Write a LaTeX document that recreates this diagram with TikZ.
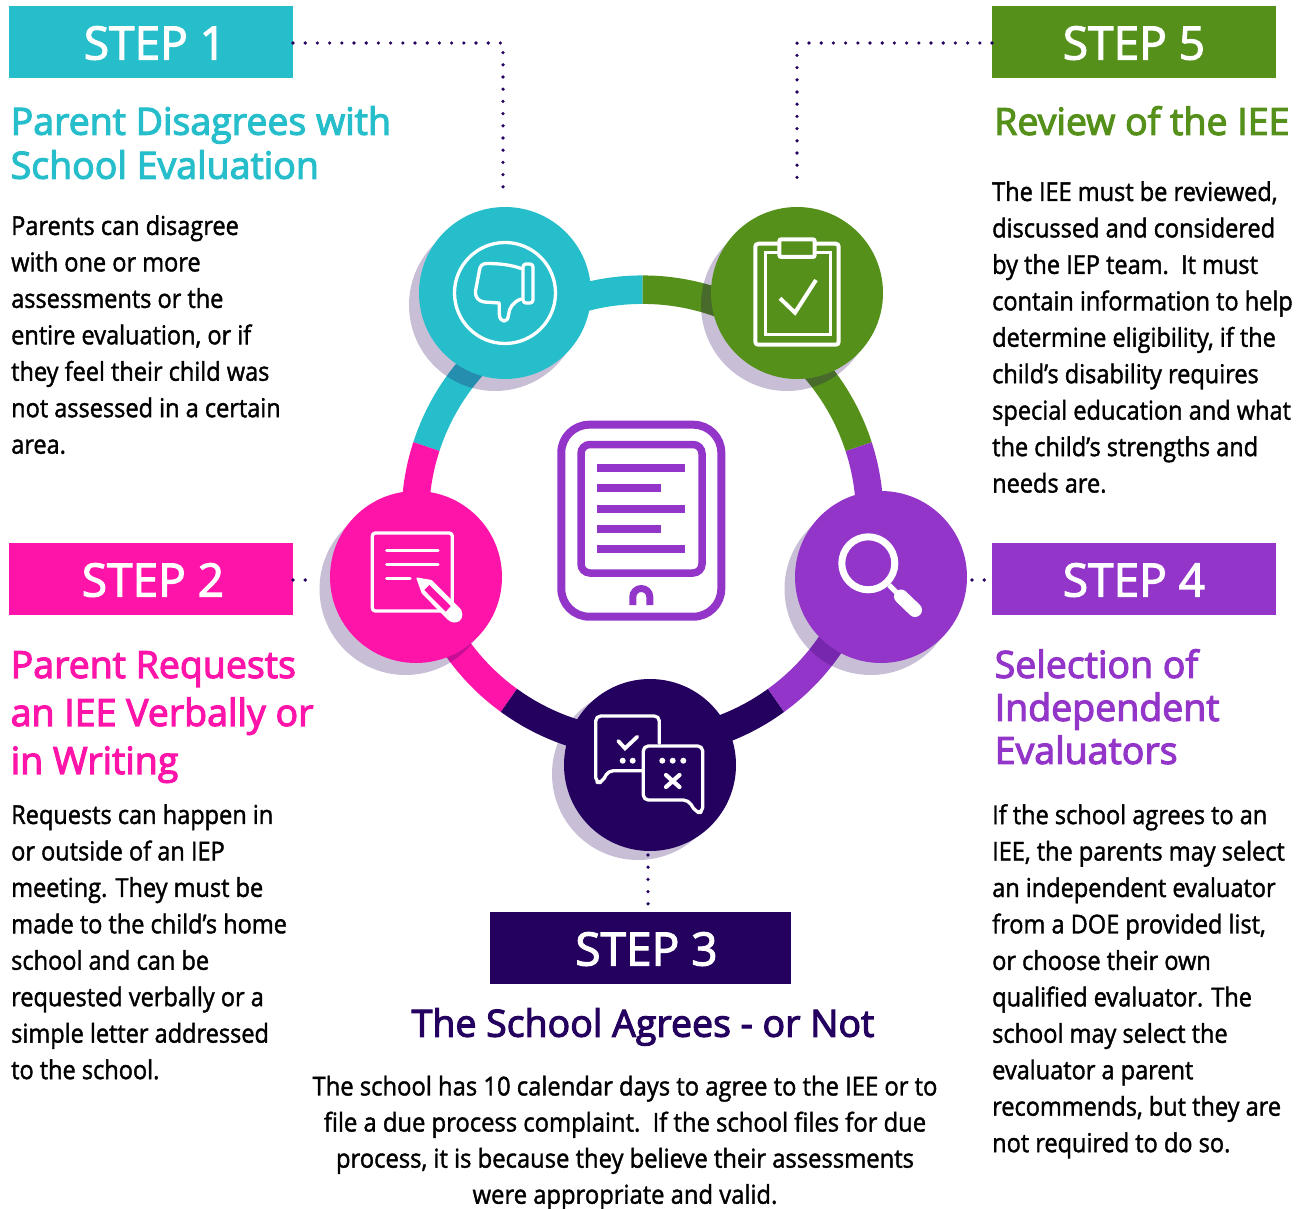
\documentclass[tikz,border=0pt]{standalone}
\usepackage{fontspec}
\setmainfont{Lato}
\newfontfamily\stepfont[FakeBold=2.5]{Open Sans}
\newfontfamily\headfont[FakeBold=3]{Open Sans}
\newfontfamily\bodyfont[FakeStretch=0.905,FakeBold=1.5]{Open Sans}
\newfontfamily\bodywide[FakeStretch=0.915,FakeBold=1.5]{Open Sans}
\definecolor{cteal}{HTML}{26BECA}
\definecolor{cgreen}{HTML}{55901B}
\definecolor{cpurple}{HTML}{9235C8}
\definecolor{cmag}{HTML}{FF14A9}
\definecolor{cnavy}{HTML}{24005F}
\tikzset{
  stepbox/.style={draw=none,minimum width=284pt,minimum height=72pt,inner sep=0pt,outer sep=0pt,text=white,text height=35pt,text depth=0pt,font=\stepfont\fontsize{46}{50}\selectfont},
  hub/.style={circle,minimum size=172pt,inner sep=0pt,outer sep=0pt},
  shadowdisc/.style={circle,minimum size=172pt,inner sep=0pt,fill=cnavy,fill opacity=0.25},
  dotline/.style={cnavy,line width=3.6pt,line cap=round,dash pattern=on 0pt off 12.2pt},
  heading/.style={anchor=north west,inner sep=0pt,align=left,font=\headfont\fontsize{37.5}{44}\selectfont},
  body/.style={anchor=north west,inner sep=0pt,align=left,text=black,font=\bodyfont\fontsize{26}{36.45}\selectfont},
  icon/.style={white,line width=3.3pt,line join=round,line cap=round},
}
\newcommand{\ringseg}[3]{\fill[#1] plot[smooth,domain=#2:#3,samples=30] ({642.5+241*cos(\x)},{516.7-241.3*sin(\x)}) -- plot[smooth,domain=#3:#2,samples=30] ({642.5+213.5*cos(\x)},{516.7-212.8*sin(\x)}) -- cycle;}
\begin{document}
\begin{tikzpicture}[x=1pt,y=-1pt]
\useasboundingbox (0,0) rectangle (1307,1209);
% ring
\ringseg{cteal}{90}{162}
\ringseg{cmag}{162}{234}
\ringseg{cnavy}{234}{306}
\ringseg{cpurple}{306}{378}
\ringseg{cgreen}{18}{90}
% shadows
\node[shadowdisc] (sh1) at (495,305) {};
\node[shadowdisc] (sh5) at (787,305) {};
\node[shadowdisc] (sh2) at (405.5,589) {};
\node[shadowdisc] (sh4) at (870.5,589) {};
\node[shadowdisc] (sh3) at (638,774) {};
% hubs
\node[hub,fill=cteal] (c1) at (505,293) {};
\node[hub,fill=cgreen] (c5) at (797,293) {};
\node[hub,fill=cmag] (c2) at (416,577) {};
\node[hub,fill=cpurple] (c4) at (881,577) {};
\node[hub,fill=cnavy] (c3) at (650,765) {};
% step boxes
\node[stepbox,fill=cteal] (s1) at (151,42) {\hspace*{8pt}STEP 1};
\node[stepbox,fill=cmag] (s2) at (151,579) {\hspace*{4pt}STEP 2};
\node[stepbox,fill=cnavy,minimum width=301pt] (s3) at (640.5,948) {\hspace*{12pt}STEP 3};
\node[stepbox,fill=cpurple] (s4) at (1134,579) {STEP 4};
\node[stepbox,fill=cgreen] (s5) at (1134,42) {STEP 5};
% dotted connectors
\coordinate (d1) at (503,188);
\coordinate (d5) at (797,188);
\coordinate (d2) at (310,580);
\coordinate (d4) at (972,580);
\coordinate (d3) at (648,855);
\draw[dotline] ([yshift=-1pt]s1.east) -| (d1);
\draw[dotline] ([yshift=-1pt]s5.west) -| (d5);
\draw[dotline] ([yshift=-1pt]s2.east) -- (d2);
\draw[dotline] (d4) -- ([yshift=-1pt]s4.west);
\draw[dotline] (d3) -- (d3 |- s3.north);
% tablet
\draw[cpurple,line width=8pt,rounded corners=28pt] (561.3,424.7) rectangle (721.3,616.7);
\draw[cpurple,line width=7.5pt,rounded corners=9pt] (581,444.5) rectangle (702,573);
\foreach \yy/\xx in {468.3/685,488.3/661,508.7/685,528.7/661,548.7/685}
  \draw[cpurple,line width=8pt] (596.7,\yy) -- (\xx,\yy);
\draw[cpurple,line width=7pt,rounded corners=8.4pt] (632.8,605) -- (632.8,588.5) -- (649.8,588.5) -- (649.8,605);
% thumb icon
\draw[icon] (c1) circle[radius=50.5pt];
\draw[icon,rounded corners=3pt] (523,264) rectangle (533,303);
\draw[icon] (521,268.5) .. controls (510,264.5) and (498,263.5) .. (487,263.5) .. controls (482,263.5) and (480,266) .. (479.5,270) -- (475.5,291) .. controls (475,297) and (478,301) .. (484,302) -- (499.3,303) -- (499.3,314) .. controls (499.5,323) and (508,323.5) .. (508.5,315) .. controls (509,308) and (513,302) .. (521,299);
% clipboard icon
\draw[white,line width=4pt,rounded corners=3pt] (755.3,243.7) rectangle (838.7,344.7);
\draw[white,line width=3pt] (765.5,253) rectangle (830,334.5);
\draw[white,fill=cgreen,line width=4pt,rounded corners=2pt] (779.3,239.3) rectangle (814.7,257);
\draw[white,line width=4pt] (780,298.3) -- (795,312.7) -- (816,280);
% note and pencil icon
\draw[icon,rounded corners=3pt] (372.3,533) rectangle (452.3,611);
\foreach \yy/\xx in {550.7/438,564.7/438,578.7/410}
  \draw[icon] (386.7,\yy) -- (\xx,\yy);
\fill[white,rounded corners=1pt] (416,577.3) -- (431.7,580) -- (461,609.5) .. controls (464,616) and (461,622) .. (455,622.5) .. controls (452,622.5) and (449,621) .. (447,619) -- (421.7,593.3) -- cycle;
\fill[cmag] (424.3,590) -- (429.3,585) -- (450.7,606) -- (445.7,611.7) -- cycle;
% magnifier icon
\draw[white,line width=7pt] (868.3,563.3) circle[radius=26.5pt];
\draw[white,line width=5pt] (889,585) -- (900,596);
\draw[white,line width=14pt,line cap=round] (901,596.5) -- (915,610);
% speech bubbles icon
\draw[icon,rounded corners=5pt] (659.3,743.3) -- (659.3,716) -- (595.7,716) -- (595.7,782.5) -- (602,782.5) -- (608.3,770.7) -- (641.7,770.7);
\draw[icon,rounded corners=5pt] (643.3,800) -- (643.3,746) -- (702.7,746) -- (702.7,812.5) -- (696,812.5) -- (688.3,800) -- cycle;
\draw[white,line width=3.8pt,line cap=round,line join=miter] (618.3,741) -- (625,748.3) -- (637.3,736.7);
\foreach \xx in {622.7,632.7,662.3,672.7,683.3}
  \fill[white] (\xx,760.7) circle[radius=3pt];
\draw[white,line width=4.2pt,line cap=round] (666,775) -- (679.5,787) (679.5,775) -- (666,787);
% headings
\node[heading,text=cteal] (h1) at (10.5,106) {Parent Disagrees with\\School Evaluation};
\node[heading,text=cmag,font=\headfont\fontsize{37.5}{48}\selectfont] (h2) at (10.5,651) {Parent Requests\\an IEE Verbally or\\in Writing};
\node[heading,text=cnavy,anchor=north,align=center] (h3) at (643,1008) {The School Agrees - or Not};
\node[heading,text=cpurple,font=\headfont\fontsize{37.5}{43}\selectfont] (h4) at (994.5,649) {Selection of\\Independent\\Evaluators};
\node[heading,text=cgreen] (h5) at (994,106) {Review of the IEE};
% body text
\node[body] (b1) at (11,215) {Parents can disagree\\with one or more\\assessments or the\\entire evaluation, or if\\they feel their child was\\not assessed in a certain\\area.};
\node[body] (b2) at (11,804) {Requests can happen in\\or outside of an IEP\\meeting. They must be\\made to the child’s home\\school and can be\\requested verbally or a\\simple letter addressed\\to the school.};
\node[body,anchor=north,align=center,font=\bodywide\fontsize{26}{36.1}\selectfont] (b3) at (625,1075.5) {The school has 10 calendar days to agree to the IEE or to\\file a due process complaint.\ \ If the school files for due\\process, it is because they believe their assessments\\were appropriate and valid.};
\node[body] (b4) at (992,804) {If the school agrees to an\\IEE, the parents may select\\an independent evaluator\\from a DOE provided list,\\or choose their own\\qualified evaluator. The\\school may select the\\evaluator a parent\\recommends, but they are\\not required to do so.};
\node[body] (b5) at (992,181) {The IEE must be reviewed,\\discussed and considered\\by the IEP team.\ \ It must\\contain information to help\\determine eligibility, if the\\child’s disability requires\\special education and what\\the child’s strengths and\\needs are.};
\end{tikzpicture}
\end{document}
